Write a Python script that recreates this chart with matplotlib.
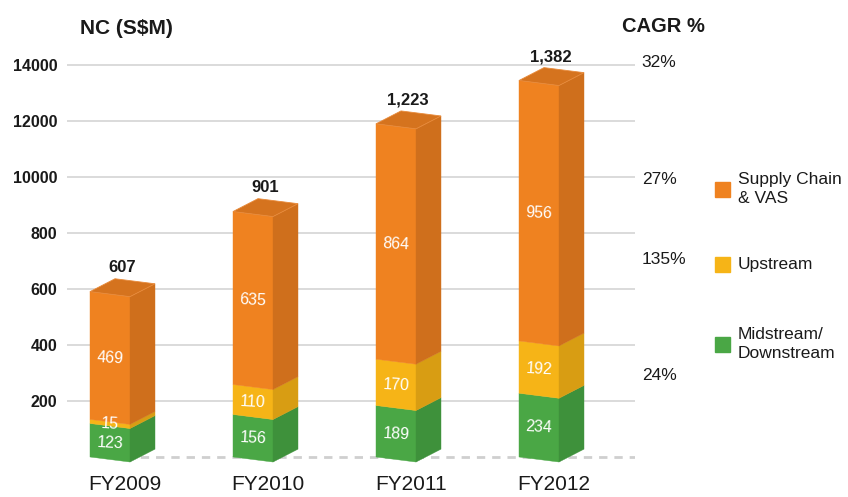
import matplotlib
matplotlib.use("Agg")
import matplotlib.pyplot as plt
from matplotlib.patches import Rectangle

plt.rcParams['font.family'] = ['Liberation Sans', 'DejaVu Sans']

# data
years = ['FY2009', 'FY2010', 'FY2011', 'FY2012']
midstream = [123, 156, 189, 234]
upstream = [15, 110, 170, 192]
supply = [469, 635, 864, 956]
totals = ['607', '901', '1,223', '1,382']
ytick_vals = [200, 400, 600, 800, 1000, 1200, 1400]
ytick_labels = ['200', '400', '600', '800', '10000', '12000', '14000']
cagr_labels = ['32%', '27%', '135%', '24%']
cagr_y = [1410, 990, 705, 292]
series = ['Midstream/\nDownstream', 'Upstream', 'Supply Chain\n& VAS']

# colours: front, side
front = ['#4AA745', '#F6B417', '#EF8220']
side = ['#3E913B', '#D89D13', '#CF6F1C']
top_col = '#D5731E'

fig = plt.figure(figsize=(8.48, 4.97), dpi=100)
ax = fig.add_axes([67/848, 35/497, 568/848, 425/497])
ax.set_xlim(-58/143, 510/143)
ax.set_ylim(-17.9, 1500)

# pseudo 3d geometry (category / value units)
off = 35/143      # front face left offset from category
fw = 40/143       # front width
sdx = 25/143      # side depth x
sdy = 46          # side depth y
slope = 18        # front face tilt
persp = 0.973     # front plane vs back wall

for i in range(len(years)):
    L = i - off
    R = L + fw
    vals = [midstream[i], upstream[i], supply[i]]
    base = 0
    for k, v in enumerate(vals):
        y0 = base*persp
        y1 = (base+v)*persp
        ax.fill([L, R, R, L], [y0, y0-slope, y1-slope, y1], color=front[k],
                ec=front[k], lw=0.3, zorder=3, clip_on=False)
        ax.fill([R, R+sdx, R+sdx, R], [y0-slope, y0-slope+sdy, y1-slope+sdy, y1-slope],
                color=side[k], ec=side[k], lw=0.3, zorder=3, clip_on=False)
        ax.text(L+fw/2, (y0+y1)/2 - slope/2, str(v), color='white', fontsize=11.5,
                ha='center', va='center', rotation=-3, zorder=5)
        base += v
    yt = base*persp
    ax.fill([L, R, R+sdx, L+sdx], [yt, yt-slope, yt-slope+sdy, yt+sdy],
            color=top_col, ec='#E88A3A', lw=0.6, zorder=4, clip_on=False)
    ax.text(i - 0.02, yt+sdy+12, totals[i], fontsize=12, fontweight='bold',
            ha='center', va='bottom', color='#1a1a1a')

# baseline
ax.plot([0, 510/143], [0, 0], color='#CFCFCF', lw=2, ls=(0, (3, 2.5)), zorder=1)

ax.set_yticks(ytick_vals)
ax.set_yticklabels(ytick_labels, fontsize=11.5, fontweight='bold', color='#1a1a1a')
ax.set_xticks(range(len(years)))
ax.set_xticklabels(years, fontsize=15, color='#1a1a1a')
ax.tick_params(axis='y', length=0, pad=7)
ax.tick_params(axis='x', length=0, pad=9)
ax.grid(axis='y', color='#DADADA', lw=1.4, zorder=0)
ax.set_axisbelow(True)
for s in ax.spines.values():
    s.set_visible(False)

# CAGR column
for lab, y in zip(cagr_labels, cagr_y):
    ax.text(1.012, y, lab, transform=ax.get_yaxis_transform(), fontsize=12.5,
            ha='left', va='center', color='#1a1a1a')

fig.text(80/848, 1-28/497, 'NC (S$M)', fontsize=15, fontweight='bold',
         ha='left', va='center', color='#1a1a1a')
fig.text(622/848, 1-27/497, 'CAGR %', fontsize=14.5, fontweight='bold',
         ha='left', va='center', color='#1a1a1a')

# legend
leg_y = [189, 264, 344]
for lab, col, y in zip(series[::-1], front[::-1], leg_y):
    fig.add_artist(Rectangle((715/848, 1-(y+8)/497), 15/848, 15/497,
                             transform=fig.transFigure, color=col))
    fig.text(738/848, 1-y/497, lab, fontsize=12.5, ha='left', va='center',
             linespacing=1.4, color='#1a1a1a')

fig.savefig('out.png', dpi=100)
